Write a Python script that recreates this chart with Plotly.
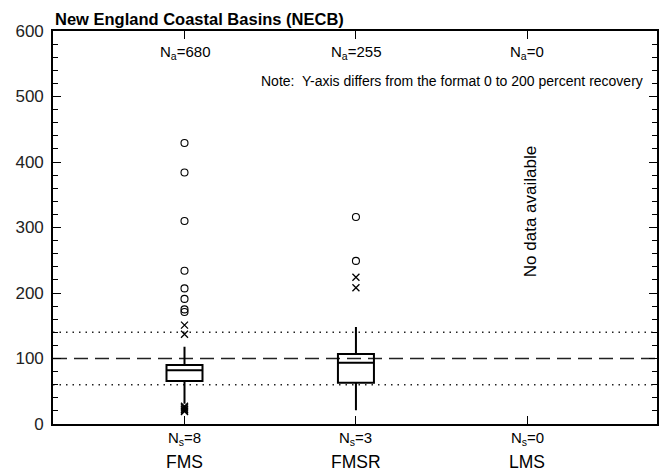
import plotly.graph_objects as go

# ---- data ----
categories = ["FMS", "FMSR", "LMS"]
n_analyses = [680, 255, 0]
n_sites = [8, 3, 0]
cat_pos = [0, 1, 2]

box_pos = [0, 1]
box_q1 = [65.6, 63.0]
box_median = [82.0, 93.6]
box_q3 = [90.0, 107.0]
box_lower = [31.0, 21.0]
box_upper = [118.0, 148.0]

circle_pos = [0, 0, 0, 0, 0, 0, 0, 0, 1, 1]
circle_val = [429, 384, 310, 234, 207, 191, 175, 171, 316, 249]

cross_pos = [0, 0, 0, 0, 0, 0, 0, 0, 1, 1]
cross_val = [151, 137, 27, 25, 23, 22, 20, 19, 224, 208]

ref_values = [60, 100, 140]
ref_dash = ["1.5px,5px", "14px,7px", "1.5px,5px"]

no_data_cat = 2
no_data_val = 324

FONT = "Liberation Sans, Arial, Helvetica, sans-serif"

fig = go.Figure()

fig.add_trace(go.Box(
    x=box_pos, q1=box_q1, median=box_median, q3=box_q3,
    lowerfence=box_lower, upperfence=box_upper,
    boxpoints=False, whiskerwidth=0, width=0.21,
    line=dict(color="black", width=2),
    fillcolor="rgba(255,255,255,0)",
    showlegend=False, hoverinfo="skip",
))

fig.add_trace(go.Scatter(
    x=circle_pos, y=circle_val, mode="markers",
    marker=dict(symbol="circle-open", size=7, color="black", line=dict(width=1.1)),
    showlegend=False, hoverinfo="skip",
))
fig.add_trace(go.Scatter(
    x=cross_pos, y=cross_val, mode="markers",
    marker=dict(symbol="x-thin-open", size=7, color="black", line=dict(width=1.3)),
    showlegend=False, hoverinfo="skip",
))

for v, d in zip(ref_values, ref_dash):
    fig.add_shape(type="line", xref="paper", x0=0, x1=1, yref="y", y0=v, y1=v,
                  line=dict(color="#222", width=1.4, dash=d), layer="below")

annotations = []
for p, na, ns, c in zip(cat_pos, n_analyses, n_sites, categories):
    annotations.append(dict(x=p, xref="x", y=1, yref="paper", yanchor="top", yshift=-10,
                            text=f"N<sub>a</sub>={na}", showarrow=False,
                            font=dict(family=FONT, size=15, color="black")))
    annotations.append(dict(x=p, xref="x", y=0, yref="paper", yanchor="top", yshift=-3,
                            text=f"N<sub>s</sub>={ns}", showarrow=False,
                            font=dict(family=FONT, size=15, color="black")))
    annotations.append(dict(x=p, xref="x", y=0, yref="paper", yanchor="top", yshift=-26,
                            text=c, showarrow=False,
                            font=dict(family=FONT, size=17.5, color="black")))

annotations.append(dict(x=0.98, xref="paper", y=1, yref="paper", xanchor="right", yanchor="top",
                        yshift=-40,
                        text="Note:  Y-axis differs from the format 0 to 200 percent recovery",
                        showarrow=False, font=dict(family=FONT, size=14, color="black")))
annotations.append(dict(x=no_data_cat, xref="x", y=no_data_val, yref="y", xshift=3,
                        text="No data available", textangle=-90, showarrow=False,
                        font=dict(family=FONT, size=17, color="black")))
annotations.append(dict(x=0, xref="paper", y=1, yref="paper", xanchor="left", yanchor="bottom",
                        yshift=1, text="<b>New England Coastal Basins (NECB)</b>",
                        showarrow=False, font=dict(family=FONT, size=16.5, color="black")))

fig.update_layout(
    width=667, height=473,
    margin=dict(l=53, r=8, t=31, b=49),
    plot_bgcolor="white", paper_bgcolor="white",
    annotations=annotations,
    font=dict(family=FONT, color="black"),
)
fig.update_xaxes(
    range=[-0.767, 2.756], tickvals=cat_pos, showticklabels=False,
    ticks="inside", ticklen=8, tickwidth=1.4, tickcolor="black",
    showline=True, linewidth=1.6, linecolor="black", mirror="ticks",
    showgrid=False, zeroline=False,
)
fig.update_yaxes(
    range=[0, 600], dtick=100, tick0=0,
    ticks="inside", ticklen=8, tickwidth=1.4, tickcolor="black",
    minor=dict(dtick=20, ticks="inside", ticklen=5, tickwidth=1.2, tickcolor="black"),
    showline=True, linewidth=1.6, linecolor="black", mirror="ticks",
    showgrid=False, zeroline=False,
    tickfont=dict(family=FONT, size=17, color="#222"),
    ticklabelstandoff=4,
)

fig.write_html("out.html")
